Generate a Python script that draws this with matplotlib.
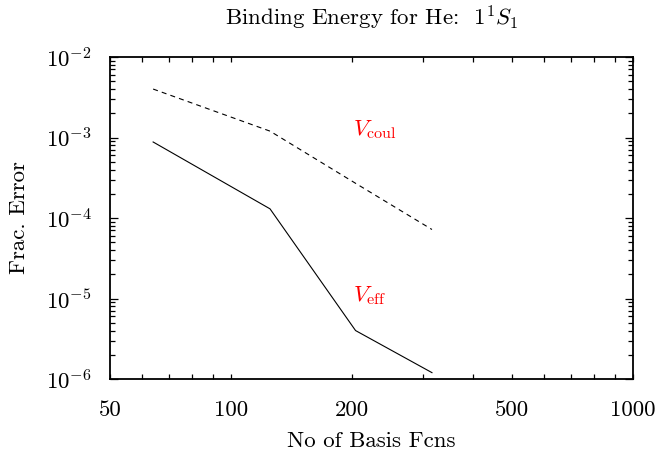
import numpy as np
import matplotlib
matplotlib.use("Agg")
import matplotlib.pyplot as plt
from matplotlib.ticker import FixedLocator, FixedFormatter, LogLocator, NullFormatter

plt.rcParams['font.family'] = 'serif'
plt.rcParams['font.serif'] = ['cmr10']
plt.rcParams['mathtext.fontset'] = 'cm'
plt.rcParams['axes.formatter.use_mathtext'] = True
plt.rcParams['lines.scale_dashes'] = False

# number of basis functions
n_basis = [64, 125, 204, 316]
# fractional error of the binding energy
err_coul = [4.0e-3, 1.2e-3, 2.7e-4, 7.2e-5]
err_eff = [8.8e-4, 1.3e-4, 4.0e-6, 1.2e-6]

xticks = [50, 60, 70, 80, 90, 100, 200, 300, 400, 500, 600, 700, 800, 900, 1000]
xticklabels = ['50', '', '', '', '', '100', '200', '', '', '500', '', '', '', '', '1000']

FS = 16.5

fig = plt.figure(figsize=(6.58, 4.51), dpi=100)
ax = fig.add_axes([0.1672, 0.1596, 0.795, 0.714])

ax.plot(n_basis, err_coul, color='black', lw=0.8, dashes=[3.6, 3.0])
ax.plot(n_basis, err_eff, color='black', lw=0.8)

ax.set_xscale('log')
ax.set_yscale('log')
ax.set_xlim(50, 1000)
ax.set_ylim(1e-6, 1e-2)

ax.xaxis.set_major_locator(FixedLocator(xticks))
ax.xaxis.set_major_formatter(FixedFormatter(xticklabels))
ax.xaxis.set_minor_locator(FixedLocator([]))
ax.yaxis.set_major_locator(LogLocator(base=10, numticks=10))
ax.yaxis.set_minor_locator(LogLocator(base=10, subs=np.arange(2, 10), numticks=10))
ax.yaxis.set_minor_formatter(NullFormatter())

ax.tick_params(axis='x', which='major', direction='in', top=True, length=3.6,
               width=0.9, labelsize=FS, pad=15.5)
ax.tick_params(axis='y', which='major', direction='in', right=True, length=5.8,
               width=0.9, labelsize=FS, pad=13)
ax.tick_params(axis='y', which='minor', direction='in', right=True, length=3.6,
               width=0.9)
for s in ax.spines.values():
    s.set_linewidth(1.3)

ax.text(201, 1.25e-3, r'$V_{\mathrm{coul}}$', color='red', fontsize=FS,
        va='center', ha='left')
ax.text(201, 1.1e-5, r'$V_{\mathrm{eff}}$', color='red', fontsize=FS,
        va='center', ha='left')

ax.set_title(r'Binding Energy for He:  $1^1S_1$', fontsize=FS, pad=23)
ax.set_xlabel('No of Basis Fcns', fontsize=FS, labelpad=8)
ax.set_ylabel('Frac. Error', fontsize=FS, labelpad=12)

fig.savefig('out.png', dpi=100)
